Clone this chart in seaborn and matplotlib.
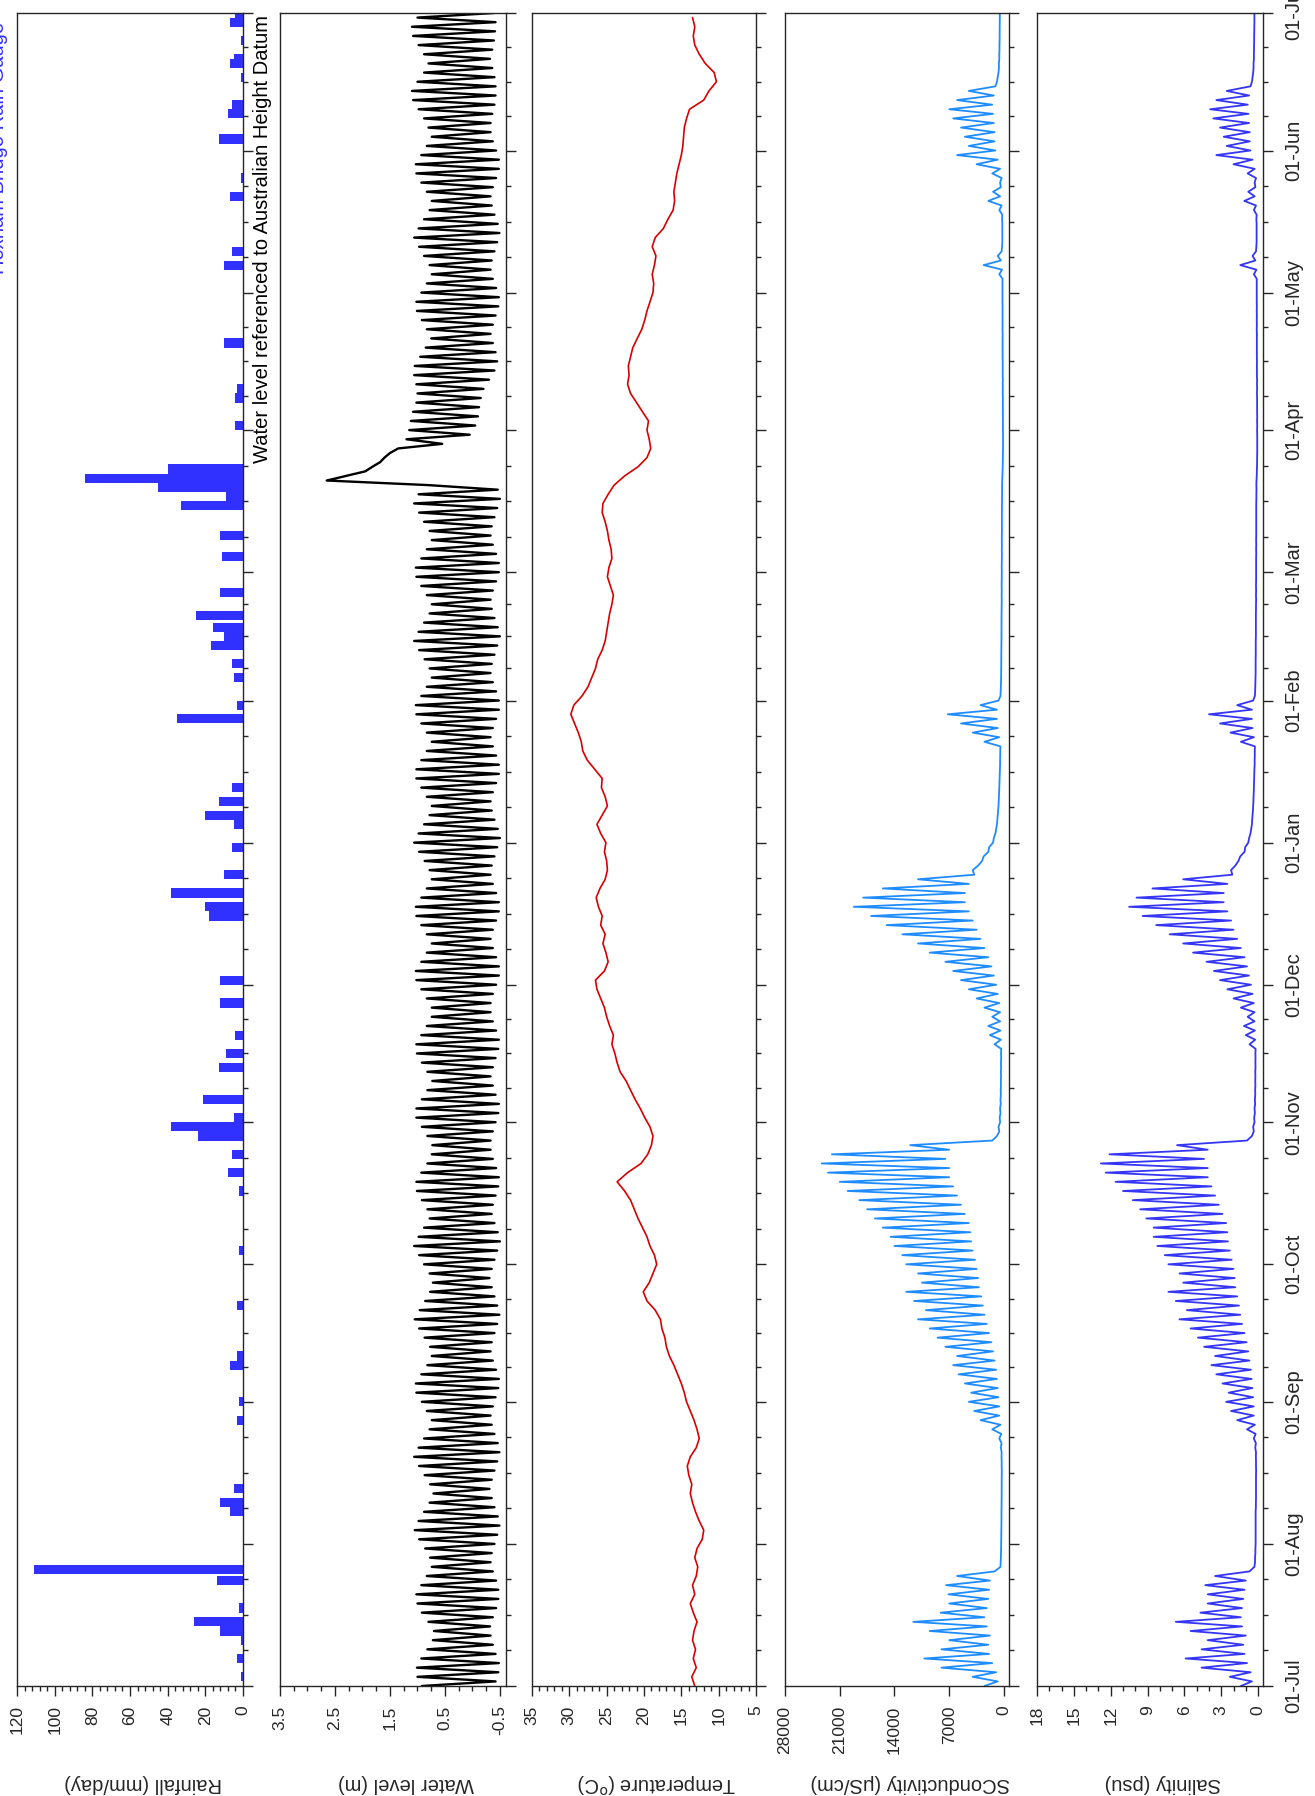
import numpy as np
import pandas as pd
import seaborn as sns
import matplotlib.pyplot as plt
import matplotlib.dates as mdates
from matplotlib.ticker import MultipleLocator, FixedLocator, NullLocator

# ---------------------------------------------------------------- data
# one year of record, sampled every 2 days (day offset from 01-Jul-2013)
START = pd.Timestamp('2013-07-01')
END = pd.Timestamp('2014-07-01')
sample_day = np.arange(0, 365, 2)

# water level (m AHD): tidal highs (at sample day) and lows (the day after)
level_hi = [
    0.92, 1.00, 1.01, 0.93, 0.82, 0.72, 0.70, 0.80, 0.92, 1.00,
    1.02, 0.93, 0.83, 0.74, 0.77, 0.86, 0.97, 1.05, 0.98, 0.88,
    0.78, 0.71, 0.77, 0.87, 0.97, 1.06, 0.98, 0.88, 0.78, 0.74,
    0.83, 0.92, 1.02, 1.03, 0.93, 0.82, 0.74, 0.77, 0.87, 0.97,
    1.05, 0.96, 0.86, 0.77, 0.72, 0.78, 0.88, 0.97, 1.06, 0.98,
    0.88, 0.78, 0.82, 0.92, 1.01, 1.02, 0.93, 0.82, 0.74, 0.73,
    0.82, 0.92, 1.02, 1.02, 0.92, 0.82, 0.73, 0.82, 0.92, 1.01,
    1.02, 0.93, 0.83, 0.74, 0.74, 0.83, 0.93, 1.02, 1.03, 0.93,
    0.83, 0.74, 0.83, 0.93, 1.02, 1.03, 0.93, 0.83, 0.74, 0.78,
    0.87, 0.97, 1.06, 0.98, 0.88, 0.78, 0.74, 0.83, 0.93, 1.02,
    1.02, 0.93, 0.83, 0.74, 0.83, 0.93, 1.02, 1.03, 0.93, 0.83,
    0.74, 0.78, 0.87, 0.97, 1.06, 0.98, 0.88, 0.78, 0.74, 0.83,
    0.93, 1.02, 1.03, 0.93, 0.83, 0.74, 0.78, 0.88, 0.97, 1.06,
    0.98, 0.80, 2.30, 1.82, 1.60, 1.35, 1.20, 1.15, 1.12, 1.08,
    1.02, 1.00, 1.02, 1.06, 1.05, 0.95, 0.85, 0.75, 0.83, 0.92,
    1.01, 1.02, 0.93, 0.83, 0.74, 0.78, 0.88, 0.97, 1.06, 0.98,
    0.88, 0.78, 0.74, 0.83, 0.93, 1.02, 1.03, 0.93, 0.83, 0.74,
    0.80, 0.88, 0.98, 1.08, 1.10, 1.00, 0.88, 0.80, 0.88, 0.98,
    1.08, 1.10, 1.00]
level_lo = [
    -0.42, -0.47, -0.48, -0.42, -0.37, -0.33, -0.32, -0.37, -0.43, -0.47,
    -0.47, -0.43, -0.37, -0.33, -0.35, -0.40, -0.45, -0.49, -0.46, -0.40,
    -0.35, -0.31, -0.35, -0.40, -0.45, -0.49, -0.46, -0.40, -0.35, -0.33,
    -0.37, -0.42, -0.47, -0.48, -0.43, -0.37, -0.33, -0.35, -0.40, -0.45,
    -0.49, -0.45, -0.40, -0.35, -0.31, -0.35, -0.40, -0.45, -0.50, -0.46,
    -0.40, -0.35, -0.37, -0.42, -0.47, -0.48, -0.43, -0.37, -0.33, -0.33,
    -0.37, -0.42, -0.47, -0.48, -0.42, -0.37, -0.33, -0.37, -0.42, -0.47,
    -0.48, -0.43, -0.37, -0.33, -0.33, -0.37, -0.43, -0.48, -0.48, -0.43,
    -0.37, -0.33, -0.37, -0.43, -0.48, -0.48, -0.43, -0.37, -0.33, -0.35,
    -0.40, -0.45, -0.50, -0.46, -0.40, -0.35, -0.33, -0.37, -0.43, -0.48,
    -0.48, -0.43, -0.37, -0.33, -0.37, -0.43, -0.48, -0.48, -0.43, -0.37,
    -0.33, -0.35, -0.40, -0.45, -0.50, -0.46, -0.40, -0.35, -0.33, -0.37,
    -0.43, -0.48, -0.48, -0.43, -0.37, -0.33, -0.35, -0.40, -0.45, -0.50,
    -0.46, 2.65, 1.95, 1.68, 1.50, 0.55, 0.05, -0.05, -0.10, -0.12,
    -0.15, -0.20, -0.30, -0.40, -0.45, -0.42, -0.37, -0.33, -0.37, -0.42,
    -0.47, -0.48, -0.43, -0.37, -0.33, -0.35, -0.40, -0.45, -0.49, -0.46,
    -0.40, -0.35, -0.33, -0.37, -0.43, -0.48, -0.48, -0.43, -0.37, -0.33,
    -0.33, -0.36, -0.40, -0.42, -0.42, -0.40, -0.36, -0.32, -0.36, -0.39,
    -0.41, -0.42, -0.39]

# water temperature (deg C)
temperature = [
    13.2, 13.6, 13.0, 13.4, 13.1, 13.5, 13.3, 12.9, 13.4, 13.8,
    13.2, 13.5, 13.0, 12.8, 13.2, 12.9, 12.2, 12.0, 12.6, 13.1,
    13.5, 13.8, 13.6, 14.0, 14.2, 13.8, 13.0, 12.6, 12.9, 13.3,
    13.8, 14.3, 14.6, 15.0, 15.5, 16.0, 16.6, 17.0, 17.2, 17.6,
    17.8, 18.5, 19.6, 20.1, 19.3, 18.8, 18.3, 18.6, 19.2, 19.6,
    20.2, 20.8, 21.3, 21.8, 22.6, 23.6, 22.2, 20.4, 19.5, 19.0,
    18.8, 19.2, 19.9, 20.5, 21.2, 21.8, 22.4, 23.2, 23.6, 23.9,
    24.3, 24.1, 24.6, 25.0, 25.3, 25.8, 26.3, 26.5, 25.3, 24.8,
    25.1, 25.5, 25.2, 25.8, 25.6, 26.1, 26.4, 25.9, 25.2, 24.9,
    25.0, 25.3, 25.1, 25.8, 26.3, 25.6, 24.9, 25.2, 25.7, 25.6,
    26.6, 27.6, 28.2, 28.4, 28.8, 29.3, 29.8, 29.4, 28.3, 27.5,
    27.0, 26.5, 26.2, 25.6, 25.2, 25.0, 24.8, 24.6, 24.3, 24.1,
    24.5, 24.9, 24.7, 24.3, 24.4, 24.7, 24.9, 25.2, 25.6, 25.5,
    24.8, 24.0, 22.6, 20.8, 19.6, 19.1, 19.3, 19.6, 19.4, 20.2,
    21.0, 21.8, 22.2, 22.0, 22.1, 21.8, 21.5, 20.9, 20.3, 19.9,
    19.6, 19.2, 18.8, 18.7, 18.9, 18.6, 18.4, 18.9, 18.5, 17.4,
    16.8, 16.1, 15.9, 16.0, 15.8, 15.6, 15.3, 15.0, 14.8, 14.7,
    14.6, 14.3, 13.9, 12.0, 11.3, 10.3, 10.6, 11.8, 12.6, 13.2,
    13.4, 13.2, 13.5]

# specific conductivity (uS/cm): flood-tide peaks and ebb-tide lows
cond_hi = [
    2500, 4000, 8000, 10200, 8000, 7000, 9500, 11600, 8100, 7000,
    7100, 7400, 6000, 450, 400, 370, 350, 340, 330, 320,
    310, 300, 300, 290, 300, 320, 400, 600, 1500, 3000,
    3800, 4500, 4200, 5000, 5800, 6500, 6000, 7500, 8500, 9500,
    11000, 10000, 11500, 12500, 10500, 11000, 12500, 13000, 14000, 14500,
    15500, 16500, 17500, 18500, 20000, 21000, 22500, 23300, 22000, 12000,
    900, 700, 550, 500, 450, 420, 400, 400, 390, 380,
    1200, 1800, 2000, 1500, 2500, 3500, 4500, 5500, 6500, 7500,
    9500, 11000, 13000, 15000, 17000, 19200, 18000, 15500, 11000, 4000,
    2800, 2000, 1400, 1100, 900, 800, 700, 650, 600, 560,
    520, 500, 480, 2500, 4000, 5500, 7200, 3000, 450, 400,
    370, 360, 350, 340, 330, 320, 320, 310, 300, 300,
    300, 290, 290, 280, 280, 280, 270, 270, 270, 260,
    250, 240, 200, 160, 140, 130, 130, 140, 140, 150,
    150, 160, 160, 170, 170, 180, 180, 180, 190, 190,
    190, 200, 200, 200, 600, 2600, 800, 250, 220, 220,
    250, 600, 2000, 1400, 500, 1500, 3500, 6000, 4500, 5000,
    5500, 6500, 7000, 6000, 4500, 900, 700, 650, 600, 580,
    560, 550, 540]
cond_lo = [
    800, 1000, 1500, 1900, 2000, 1800, 2200, 2500, 2200, 2000,
    1900, 1800, 1200, 420, 380, 360, 340, 330, 320, 310,
    300, 290, 290, 280, 290, 300, 320, 350, 450, 600,
    600, 700, 800, 900, 1000, 1200, 1400, 1600, 1900, 2200,
    2500, 2700, 2900, 3200, 3300, 3500, 3700, 4000, 4200, 4300,
    4500, 5000, 5500, 6000, 6500, 7000, 7000, 7500, 7000, 1500,
    600, 500, 450, 420, 400, 390, 380, 370, 360, 350,
    400, 450, 500, 500, 600, 800, 1000, 1300, 1600, 2000,
    2500, 3000, 3500, 4000, 4500, 5000, 5000, 4500, 3800, 3300,
    2600, 1900, 1300, 1000, 850, 750, 680, 620, 580, 540,
    500, 480, 460, 600, 800, 900, 900, 700, 420, 380,
    360, 350, 340, 330, 320, 310, 310, 300, 290, 290,
    290, 280, 280, 270, 270, 270, 260, 260, 260, 250,
    240, 230, 180, 150, 130, 120, 120, 130, 130, 140,
    140, 150, 150, 160, 160, 170, 170, 170, 180, 180,
    180, 190, 190, 190, 250, 400, 300, 210, 210, 210,
    220, 300, 500, 400, 300, 500, 800, 1100, 1200, 1200,
    1300, 1400, 1500, 1300, 1100, 800, 650, 600, 580, 560,
    550, 540, 530]

# salinity (psu)
sal_hi = [
    1.4, 2.3, 4.6, 5.9, 4.6, 4.1, 5.5, 6.7, 4.7, 4.1,
    4.1, 4.3, 3.5, 0.3, 0.25, 0.22, 0.2, 0.2, 0.2, 0.2,
    0.18, 0.17, 0.17, 0.17, 0.17, 0.18, 0.23, 0.35, 0.9, 1.7,
    2.2, 2.6, 2.4, 2.9, 3.4, 3.8, 3.5, 4.4, 4.9, 5.5,
    6.4, 5.8, 6.7, 7.3, 6.1, 6.4, 7.3, 7.6, 8.2, 8.5,
    8.5, 9.1, 9.6, 10.2, 11.0, 11.6, 12.4, 12.8, 12.1, 6.6,
    0.5, 0.4, 0.32, 0.29, 0.26, 0.24, 0.23, 0.23, 0.22, 0.22,
    0.7, 1.0, 1.15, 0.85, 1.4, 2.0, 2.5, 3.1, 3.6, 4.2,
    5.3, 6.1, 7.2, 8.3, 9.4, 10.5, 9.9, 8.6, 6.1, 2.2,
    1.6, 1.1, 0.8, 0.62, 0.5, 0.45, 0.4, 0.37, 0.34, 0.32,
    0.3, 0.28, 0.27, 1.4, 2.25, 3.1, 4.0, 1.7, 0.26, 0.23,
    0.21, 0.2, 0.2, 0.19, 0.19, 0.18, 0.18, 0.18, 0.17, 0.17,
    0.17, 0.16, 0.16, 0.16, 0.16, 0.16, 0.15, 0.15, 0.15, 0.15,
    0.14, 0.14, 0.11, 0.09, 0.08, 0.07, 0.07, 0.08, 0.08, 0.08,
    0.08, 0.09, 0.09, 0.1, 0.1, 0.1, 0.1, 0.1, 0.11, 0.11,
    0.11, 0.11, 0.11, 0.11, 0.34, 1.45, 0.45, 0.14, 0.12, 0.12,
    0.14, 0.34, 1.12, 0.8, 0.28, 0.85, 2.0, 3.4, 2.55, 2.8,
    3.1, 3.65, 3.9, 3.4, 2.55, 0.5, 0.4, 0.37, 0.34, 0.33,
    0.32, 0.31, 0.3]
sal_lo = [
    0.5, 0.6, 0.9, 1.1, 1.2, 1.0, 1.3, 1.4, 1.3, 1.2,
    1.1, 1.0, 0.7, 0.25, 0.22, 0.2, 0.2, 0.2, 0.2, 0.18,
    0.17, 0.17, 0.17, 0.16, 0.17, 0.17, 0.18, 0.2, 0.26, 0.35,
    0.35, 0.4, 0.46, 0.52, 0.58, 0.7, 0.8, 0.93, 1.1, 1.3,
    1.45, 1.55, 1.7, 1.85, 1.9, 2.0, 2.15, 2.3, 2.45, 2.5,
    2.6, 2.9, 3.2, 3.5, 3.8, 4.1, 4.1, 4.4, 4.1, 0.9,
    0.35, 0.29, 0.26, 0.24, 0.23, 0.22, 0.22, 0.21, 0.21, 0.2,
    0.23, 0.26, 0.29, 0.29, 0.35, 0.45, 0.57, 0.74, 0.9, 1.1,
    1.4, 1.7, 2.0, 2.2, 2.5, 2.8, 2.8, 2.5, 2.1, 1.85,
    1.45, 1.05, 0.73, 0.56, 0.48, 0.42, 0.38, 0.35, 0.33, 0.31,
    0.28, 0.27, 0.26, 0.34, 0.45, 0.5, 0.5, 0.4, 0.24, 0.22,
    0.2, 0.2, 0.19, 0.19, 0.18, 0.18, 0.18, 0.17, 0.16, 0.16,
    0.16, 0.16, 0.16, 0.15, 0.15, 0.15, 0.15, 0.15, 0.15, 0.14,
    0.13, 0.13, 0.1, 0.08, 0.07, 0.07, 0.07, 0.07, 0.07, 0.08,
    0.08, 0.08, 0.08, 0.09, 0.09, 0.1, 0.1, 0.1, 0.1, 0.1,
    0.1, 0.11, 0.11, 0.11, 0.14, 0.22, 0.17, 0.12, 0.12, 0.12,
    0.12, 0.17, 0.28, 0.22, 0.17, 0.28, 0.45, 0.62, 0.67, 0.67,
    0.73, 0.78, 0.84, 0.73, 0.62, 0.45, 0.37, 0.34, 0.33, 0.32,
    0.31, 0.3, 0.3]

# daily rainfall at Hexham Bridge (day offset, mm)
rain_day = [2, 6, 10, 12, 14, 17, 23, 25.5, 38, 40, 43, 58, 62, 70, 72, 83,
            95, 108, 112, 116, 120, 122, 124, 128, 135, 138, 142, 149, 154,
            168, 170, 173, 177, 183, 188, 190, 193, 196, 211, 214, 220, 223,
            227, 229, 231, 233.5, 238.5, 246.5, 251, 257.5, 259.5, 261.5,
            263.5, 265.5, 275, 281, 283, 293, 310, 313, 325, 329, 337.5, 343,
            345, 351, 354, 355, 359, 363, 364.5]
rain_mm = [1, 3, 1, 12, 26, 2, 14, 111, 7, 12, 5, 3, 2, 7, 3, 3,
           2, 2, 8, 6, 24, 38, 5, 21, 13, 9, 4, 12, 12,
           18, 20, 38, 10, 6, 5, 20, 13, 6, 35, 3, 5, 6,
           17, 10, 16, 25, 12, 11, 12, 33, 9, 45,
           84, 40, 4, 4, 3, 10, 10, 6, 7, 1, 13, 8,
           6, 1, 7, 5, 1, 7, 4]

# ---------------------------------------------------------------- style
sns.set_style('ticks')
plt.rcParams['font.family'] = ['Liberation Sans', 'DejaVu Sans']
plt.rcParams['axes.unicode_minus'] = False
plt.rcParams['axes.linewidth'] = 1.0
plt.rcParams['xtick.major.width'] = 1.0
plt.rcParams['ytick.major.width'] = 1.0
plt.rcParams['xtick.minor.width'] = 1.0
plt.rcParams['ytick.minor.width'] = 1.0

BLUE = '#3030ff'
t0 = mdates.date2num(START)
t1 = mdates.date2num(END)


def zigzag(hi, lo):
    t = np.empty(2 * len(sample_day))
    v = np.empty(2 * len(sample_day))
    t[0::2] = t0 + sample_day
    t[1::2] = t0 + sample_day + 1
    v[0::2] = hi
    v[1::2] = lo
    return t, v


# quarter-month minor ticks
months = pd.date_range(START, END, freq='MS')
minor_pos = []
for a, b in zip(months[:-1], months[1:]):
    na, nb = mdates.date2num(a), mdates.date2num(b)
    minor_pos += [na + k * (nb - na) / 4 for k in (1, 2, 3)]

fig = plt.figure(figsize=(13.15, 17.96), dpi=100)
W_PX, H_PX = 1315, 1796
bottom, height = 1 - 1686 / H_PX, 1673 / H_PX
panels = [(17, 226), (280, 226), (532, 224), (785, 224), (1037, 226)]
axes = [fig.add_axes([l / W_PX, bottom, w / W_PX, height]) for l, w in panels]
ax_rain, ax_wl, ax_temp, ax_cond, ax_sal = axes

# rainfall
ax_rain.barh(t0 + np.array(rain_day), rain_mm, height=2.0, color=BLUE, linewidth=0)

# water level
t, v = zigzag(level_hi, level_lo)
sns.lineplot(x=v, y=t, sort=False, estimator=None, orient='y', color='black',
             linewidth=1.7, ax=ax_wl)

# temperature
sns.lineplot(x=temperature, y=t0 + sample_day, sort=False, estimator=None,
             orient='y', color='#d80000', linewidth=1.2, ax=ax_temp)

# conductivity
t, v = zigzag(cond_hi, cond_lo)
sns.lineplot(x=v, y=t, sort=False, estimator=None, orient='y', color='#1e8cff',
             linewidth=1.3, ax=ax_cond)

# salinity
t, v = zigzag(sal_hi, sal_lo)
sns.lineplot(x=v, y=t, sort=False, estimator=None, orient='y', color='#3535f5',
             linewidth=1.3, ax=ax_sal)

xlims = [(120, 0), (3.5, -0.61), (35, 5), (28000, -640), (18, -0.4)]
majors = [MultipleLocator(20), FixedLocator([3.5, 2.5, 1.5, 0.5, -0.5]),
          MultipleLocator(5), MultipleLocator(7000), MultipleLocator(3)]
minors = [MultipleLocator(4), MultipleLocator(0.25), MultipleLocator(1),
          NullLocator(), MultipleLocator(1)]
labels = ['Rainfall (mm/day)', 'Water level (m)', 'Temperature ($^{\\rm o}$C)',
          'SConductivity (\u03bcS/cm)', 'Salinity (psu)']

for i, ax in enumerate(axes):
    ax.set_xlim(*xlims[i])
    ax.set_ylim(t0, t1)
    ax.xaxis.set_major_locator(majors[i])
    ax.xaxis.set_minor_locator(minors[i])
    if i == 3:
        ax.xaxis.set_major_formatter(plt.FuncFormatter(lambda x, p: f'{x:.0f}'))
    ax.yaxis.set_major_locator(mdates.MonthLocator())
    ax.yaxis.set_major_formatter(mdates.DateFormatter('%d-%b'))
    ax.yaxis.set_minor_locator(FixedLocator(minor_pos))
    ax.tick_params(axis='x', which='both', bottom=True, top=False, direction='out')
    ax.tick_params(axis='x', which='major', length=7, labelsize=12.5, pad=7,
                   labelrotation=90)
    ax.tick_params(axis='x', which='minor', length=3.5)
    ax.tick_params(axis='y', which='both', left=False, right=True, direction='out',
                   labelleft=False, labelright=(i == 4))
    ax.tick_params(axis='y', which='major', length=7, labelsize=14.5, pad=8,
                   labelrotation=90)
    ax.tick_params(axis='y', which='minor', length=3.5)
    for s in ax.spines.values():
        s.set_visible(True)
        s.set_linewidth(1.0)
    ax.set_ylabel('')
    ax.set_xlabel(labels[i], rotation=180, fontsize=14.5, va='center')
    w = panels[i][1]
    ax.xaxis.set_label_coords(0.5 + 13 / w, -97 / 1673)

plt.setp(ax_sal.get_yticklabels(), va='center')

fig.text(-1 / W_PX, 1 - 22 / H_PX, 'Hexham Bridge Rain Gauge', rotation=90,
         ha='center', va='top', color=BLUE, fontsize=14.5)
fig.text(263 / W_PX, 1 - 15 / H_PX,
         'Water level referenced to Australian Height Datum', rotation=90,
         ha='center', va='top', color='black', fontsize=14.5)

fig.savefig('out.png', dpi=100)
